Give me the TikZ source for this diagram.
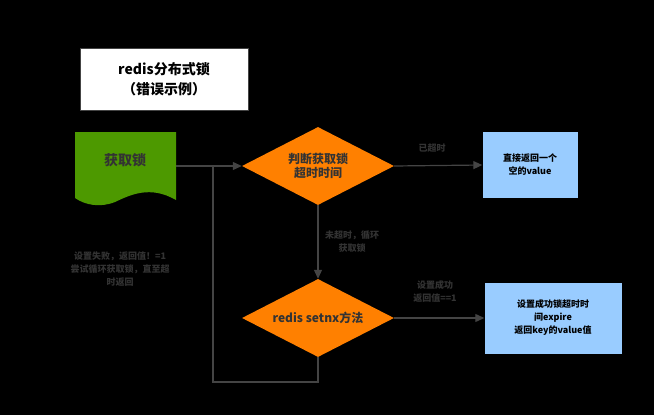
\documentclass[tikz,border=0pt]{standalone}
\usepackage{fontspec}
\setmainfont{Noto Sans CJK SC}
\usetikzlibrary{shapes.geometric,arrows.meta}
\definecolor{txtgray}{HTML}{333333}
\definecolor{linegray}{HTML}{444444}
\definecolor{decorange}{HTML}{FF8000}
\definecolor{resblue}{HTML}{99CCFF}
\definecolor{docgreen}{HTML}{4D9900}
\tikzset{
  decision/.style={diamond,aspect=1.95,fill=decorange,minimum width=152pt,minimum height=78pt,inner sep=0pt,
    font=\bfseries\fontsize{12}{14}\selectfont,text=txtgray,align=center},
  result/.style={rectangle,fill=resblue,align=center,font=\bfseries\fontsize{9}{13}\selectfont,text=black},
  note/.style={align=center,font=\bfseries\fontsize{9}{13}\selectfont,text=txtgray},
  flow/.style={draw=linegray,line width=1.2pt,-{Triangle[length=9pt,width=8pt]}}
}
\begin{document}
\begin{tikzpicture}[x=1pt,y=-1pt]
\fill[black] (0,0) rectangle (654,415);
\useasboundingbox (0,0) rectangle (654,415);
% title
\node[draw=linegray,fill=white,line width=1pt,minimum width=168pt,minimum height=62pt,align=center,
  font=\bfseries\fontsize{14}{20}\selectfont,text=black] (title) at (164,79) {redis分布式锁\\（错误示例）};
% document shape
\fill[docgreen] (75,132) -- (176,132) -- (176,200) .. controls (150,185) and (130,195) .. (115,202)
  .. controls (100,208) and (85,205) .. (75,198) -- cycle;
\node[font=\bfseries\fontsize{14}{16}\selectfont,text=txtgray] (start) at (125,160) {获取锁};
\coordinate (startR) at (176,166);
% decisions and results
\node[decision] (check) at (318,166) {判断获取锁\\超时时间};
\node[decision] (setnx) at (318,318) {redis setnx方法};
\node[result,minimum width=95pt,minimum height=66pt] (fail) at (530,165) {直接返回一个\\空的value};
\node[result,minimum width=137pt,minimum height=71pt] (ok) at (553,318) {设置成功锁超时时\\间expire\\返回key的value值};
% labels
\node[note] (lblA) at (432,148) {已超时};
\node[note] (lblB) at (352,242) {未超时，循环\\获取锁};
\node[note] (lblC) at (435,292) {设置成功\\返回值==1};
\node[note] (lblD) at (120,269) {设置失败，返回值！=1\\尝试循环获取锁，直至超\\时返回};
% connectors
\coordinate (loopA) at (318,382);
\coordinate (loopB) at (213,382);
\coordinate (loopC) at (213,166);
\draw[flow] (startR) -- (check.west);
\draw[flow] (check.east) -- (fail.west);
\draw[flow] (check.south) -- (setnx.north);
\draw[flow] (setnx.east) -- (ok.west);
\draw[draw=linegray,line width=1.2pt] (setnx.south) -- (loopA) -- (loopB) -- (loopC);
\end{tikzpicture}
\end{document}
